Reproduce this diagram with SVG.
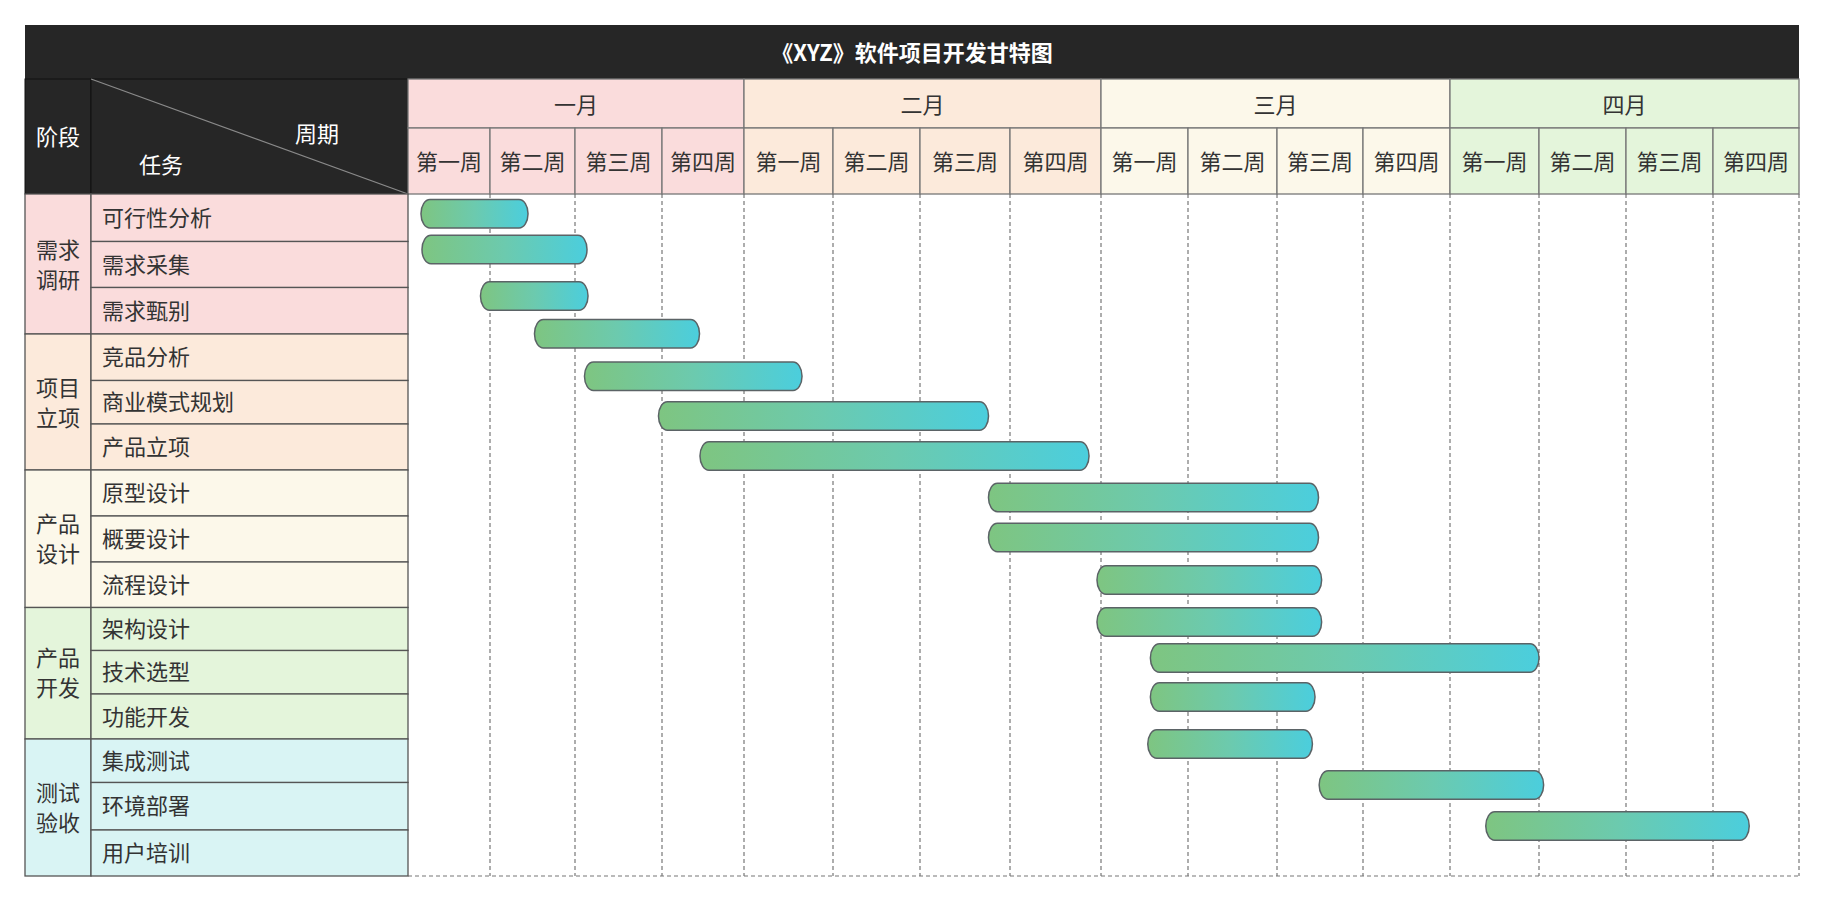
<svg xmlns="http://www.w3.org/2000/svg" width="1825" height="901" viewBox="0 0 1825 901">
<style>
text{font-family:"Noto Sans CJK SC","Noto Sans",sans-serif;}
.t{font-size:22px;fill:#333;dominant-baseline:central;}
.c{text-anchor:middle;}
.cell{stroke:#555;stroke-width:1.3;}
.hc{stroke:#777;stroke-width:1.3;}
.grid{stroke:#777;stroke-width:1.2;stroke-dasharray:4 3;fill:none;}
.bar{fill:url(#g);stroke:#5b6366;stroke-width:1.5;}
.p1{fill:#FADCDC;}.p2{fill:#FCEADB;}.p3{fill:#FCF8EA;}.p4{fill:#E4F5DB;}.p5{fill:#D9F4F4;}
</style>
<defs>
<linearGradient id="g" x1="0" y1="0" x2="1" y2="0">
<stop offset="0" stop-color="#7EC581"/>
<stop offset="0.5" stop-color="#6CCAAE"/>
<stop offset="1" stop-color="#4BCEDD"/>
</linearGradient>
</defs>
<rect width="1825" height="901" fill="#fff"/>
<g id="title">
<rect x="25" y="25" width="1774" height="54" fill="#262626"/>
<text class="t c" x="912" y="51" font-weight="bold" style="fill:#fff">《XYZ》软件项目开发甘特图</text>
</g>
<g id="header-left">
<rect x="25" y="79" width="66" height="115" fill="#262626" stroke="#111"/>
<rect x="91" y="79" width="317" height="115" fill="#262626" stroke="#111"/>
<line x1="91" y1="79" x2="408" y2="194" stroke="#8a8a8a" stroke-width="1.3"/>
<text class="t c" x="58" y="135" style="fill:#fff">阶段</text>
<text class="t c" x="317" y="132" style="fill:#fff">周期</text>
<text class="t c" x="161" y="163" style="fill:#fff">任务</text>
</g>
<g id="months">
<rect class="p1 hc" x="408" y="79" width="336" height="49"/>
<rect class="p2 hc" x="744" y="79" width="357" height="49"/>
<rect class="p3 hc" x="1101" y="79" width="349" height="49"/>
<rect class="p4 hc" x="1450" y="79" width="349" height="49"/>
<text class="t c" x="576" y="102.5">一月</text>
<text class="t c" x="922.5" y="102.5">二月</text>
<text class="t c" x="1275.5" y="102.5">三月</text>
<text class="t c" x="1624.5" y="102.5">四月</text>
</g>
<g id="weeks">
<rect class="p1 hc" x="408" y="128" width="82" height="66"/>
<rect class="p1 hc" x="490" y="128" width="85" height="66"/>
<rect class="p1 hc" x="575" y="128" width="87" height="66"/>
<rect class="p1 hc" x="662" y="128" width="82" height="66"/>
<rect class="p2 hc" x="744" y="128" width="89" height="66"/>
<rect class="p2 hc" x="833" y="128" width="87" height="66"/>
<rect class="p2 hc" x="920" y="128" width="90" height="66"/>
<rect class="p2 hc" x="1010" y="128" width="91" height="66"/>
<rect class="p3 hc" x="1101" y="128" width="87" height="66"/>
<rect class="p3 hc" x="1188" y="128" width="89" height="66"/>
<rect class="p3 hc" x="1277" y="128" width="86" height="66"/>
<rect class="p3 hc" x="1363" y="128" width="87" height="66"/>
<rect class="p4 hc" x="1450" y="128" width="89" height="66"/>
<rect class="p4 hc" x="1539" y="128" width="87" height="66"/>
<rect class="p4 hc" x="1626" y="128" width="87" height="66"/>
<rect class="p4 hc" x="1713" y="128" width="86" height="66"/>
<text class="t c" x="449" y="159.5">第一周</text>
<text class="t c" x="532.5" y="159.5">第二周</text>
<text class="t c" x="618.5" y="159.5">第三周</text>
<text class="t c" x="703" y="159.5">第四周</text>
<text class="t c" x="788.5" y="159.5">第一周</text>
<text class="t c" x="876.5" y="159.5">第二周</text>
<text class="t c" x="965" y="159.5">第三周</text>
<text class="t c" x="1055.5" y="159.5">第四周</text>
<text class="t c" x="1144.5" y="159.5">第一周</text>
<text class="t c" x="1232.5" y="159.5">第二周</text>
<text class="t c" x="1320" y="159.5">第三周</text>
<text class="t c" x="1406.5" y="159.5">第四周</text>
<text class="t c" x="1494.5" y="159.5">第一周</text>
<text class="t c" x="1582.5" y="159.5">第二周</text>
<text class="t c" x="1669.5" y="159.5">第三周</text>
<text class="t c" x="1756" y="159.5">第四周</text>
</g>
<g id="grid">
<path class="grid" d="M490 194V876M575 194V876M662 194V876M744 194V876M833 194V876M920 194V876M1010 194V876M1101 194V876M1188 194V876M1277 194V876M1363 194V876M1450 194V876M1539 194V876M1626 194V876M1713 194V876M1799 194V876M408 876H1799"/>
</g>
<g id="phase-1">
<rect class="p1 cell" x="25" y="194" width="66" height="140"/>
<text class="t c" x="58" y="248">需求</text>
<text class="t c" x="58" y="278">调研</text>
</g>
<g id="phase-2">
<rect class="p2 cell" x="25" y="334" width="66" height="136"/>
<text class="t c" x="58" y="386">项目</text>
<text class="t c" x="58" y="416">立项</text>
</g>
<g id="phase-3">
<rect class="p3 cell" x="25" y="470" width="66" height="137.5"/>
<text class="t c" x="58" y="522">产品</text>
<text class="t c" x="58" y="552">设计</text>
</g>
<g id="phase-4">
<rect class="p4 cell" x="25" y="607.5" width="66" height="131.5"/>
<text class="t c" x="58" y="656">产品</text>
<text class="t c" x="58" y="686">开发</text>
</g>
<g id="phase-5">
<rect class="p5 cell" x="25" y="739" width="66" height="137"/>
<text class="t c" x="58" y="791">测试</text>
<text class="t c" x="58" y="821">验收</text>
</g>
<g id="tasks">
<g id="task-1"><rect class="p1 cell" x="91" y="194" width="317" height="47.5"/><text class="t" x="102" y="216">可行性分析</text></g>
<g id="task-2"><rect class="p1 cell" x="91" y="241.5" width="317" height="46"/><text class="t" x="102" y="262.5">需求采集</text></g>
<g id="task-3"><rect class="p1 cell" x="91" y="287.5" width="317" height="46.5"/><text class="t" x="102" y="309">需求甄别</text></g>
<g id="task-4"><rect class="p2 cell" x="91" y="334" width="317" height="46.5"/><text class="t" x="102" y="355">竞品分析</text></g>
<g id="task-5"><rect class="p2 cell" x="91" y="380.5" width="317" height="43.5"/><text class="t" x="102" y="400">商业模式规划</text></g>
<g id="task-6"><rect class="p2 cell" x="91" y="424" width="317" height="46"/><text class="t" x="102" y="445">产品立项</text></g>
<g id="task-7"><rect class="p3 cell" x="91" y="470" width="317" height="46"/><text class="t" x="102" y="491">原型设计</text></g>
<g id="task-8"><rect class="p3 cell" x="91" y="516" width="317" height="46"/><text class="t" x="102" y="537">概要设计</text></g>
<g id="task-9"><rect class="p3 cell" x="91" y="562" width="317" height="45.5"/><text class="t" x="102" y="583">流程设计</text></g>
<g id="task-10"><rect class="p4 cell" x="91" y="607.5" width="317" height="43"/><text class="t" x="102" y="627">架构设计</text></g>
<g id="task-11"><rect class="p4 cell" x="91" y="650.5" width="317" height="43.5"/><text class="t" x="102" y="670">技术选型</text></g>
<g id="task-12"><rect class="p4 cell" x="91" y="694" width="317" height="45"/><text class="t" x="102" y="714.5">功能开发</text></g>
<g id="task-13"><rect class="p5 cell" x="91" y="739" width="317" height="43.5"/><text class="t" x="102" y="759">集成测试</text></g>
<g id="task-14"><rect class="p5 cell" x="91" y="782.5" width="317" height="47.5"/><text class="t" x="102" y="804">环境部署</text></g>
<g id="task-15"><rect class="p5 cell" x="91" y="830" width="317" height="46"/><text class="t" x="102" y="851">用户培训</text></g>
</g>
<g id="bars">
<rect class="bar" x="421" y="199.5" width="107" height="28.5" rx="9" ry="14"/>
<rect class="bar" x="422" y="235.3" width="165" height="28.5" rx="9" ry="14"/>
<rect class="bar" x="480.5" y="281.7" width="107.5" height="28.5" rx="9" ry="14"/>
<rect class="bar" x="534.5" y="319.5" width="165" height="28.5" rx="9" ry="14"/>
<rect class="bar" x="584.5" y="362" width="217.5" height="28.5" rx="9" ry="14"/>
<rect class="bar" x="658.5" y="401.7" width="330" height="28.5" rx="9" ry="14"/>
<rect class="bar" x="700" y="441.7" width="389" height="28.5" rx="9" ry="14"/>
<rect class="bar" x="988.5" y="483.3" width="330" height="28.5" rx="9" ry="14"/>
<rect class="bar" x="988.5" y="523.3" width="330" height="28.5" rx="9" ry="14"/>
<rect class="bar" x="1097" y="565.7" width="224.6" height="28.5" rx="9" ry="14"/>
<rect class="bar" x="1097" y="607.7" width="224.6" height="28.5" rx="9" ry="14"/>
<rect class="bar" x="1150.4" y="643.7" width="388.6" height="28.5" rx="9" ry="14"/>
<rect class="bar" x="1150.4" y="682.7" width="164.6" height="28.5" rx="9" ry="14"/>
<rect class="bar" x="1147.8" y="729.7" width="164.6" height="28.5" rx="9" ry="14"/>
<rect class="bar" x="1319.2" y="770.7" width="224.4" height="28.5" rx="9" ry="14"/>
<rect class="bar" x="1485.8" y="811.7" width="263.4" height="28.5" rx="9" ry="14"/>
</g>
</svg>
